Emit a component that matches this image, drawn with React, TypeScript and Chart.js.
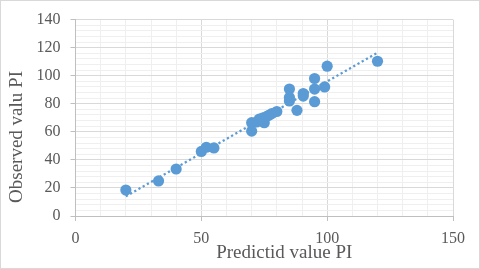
import React, { useEffect, useRef } from "react";
import { Chart, registerables } from "chart.js";

Chart.register(...registerables);

const predictedX = [20, 33, 40, 50, 52, 55, 70, 70, 72, 73, 74.5, 75, 76, 77, 78, 80, 85, 85, 85, 88, 90.5, 90.5, 95, 95, 95, 99, 100, 120];
const observedY = [18.5, 25, 33.5, 46, 49, 48.5, 60.5, 66.5, 67, 69, 70, 66.5, 71, 72, 73, 74.5, 90.5, 84.5, 82, 75.3, 85.5, 87.3, 81.5, 90.5, 98, 92, 106.8, 110.3];
const trendX = [20, 120];
const trendY = [14, 116.4];
const xTitle = "Predictid value PI";
const yTitle = "Observed valu PI";

const FONT = "'Liberation Serif', 'Times New Roman', serif";

export default function App() {
  const ref = useRef<HTMLCanvasElement>(null);
  useEffect(() => {
    document.body.style.margin = "0";
    const ctx = ref.current!;
    const deco = {
      id: "deco",
      beforeDraw(chart: any) {
        const c = chart.ctx;
        c.save();
        c.fillStyle = "#ffffff";
        c.fillRect(0, 0, chart.width, chart.height);
        c.strokeStyle = "#d9d9d9";
        c.lineWidth = 1;
        c.strokeRect(0.5, 0.5, chart.width - 1, chart.height - 1);
        c.restore();
      },
      afterDraw(chart: any) {
        const c = chart.ctx;
        const area = chart.chartArea;
        c.save();
        c.fillStyle = "#595959";
        c.font = "19px " + FONT;
        c.textAlign = "center";
        c.textBaseline = "middle";
        c.fillText(xTitle, area.left + (area.right - area.left) * 0.553, 253);
        c.translate(17, 137);
        c.rotate(-Math.PI / 2);
        c.fillText(yTitle, 0, 0);
        c.restore();
      },
    };
    const font = { family: FONT };
    const chart = new Chart(ctx, {
      type: "scatter",
      data: {
        datasets: [
          {
            label: "Observed",
            data: predictedX.map((x, i) => ({ x, y: observedY[i] })),
            backgroundColor: "#5b9bd5",
            borderColor: "#5b9bd5",
            pointRadius: 5.6,
            pointHoverRadius: 5.6,
            borderWidth: 0,
          },
          {
            type: "line",
            label: "Trend",
            data: trendX.map((x, i) => ({ x, y: trendY[i] })),
            borderColor: "#5b9bd5",
            borderWidth: 2.25,
            borderDash: [2.25, 2.6],
            pointRadius: 0,
            fill: false,
          } as any,
        ],
      },
      options: {
        animation: false,
        responsive: false,
        layout: { padding: { left: 0, right: 27, top: 12.4, bottom: 0 } },
        plugins: { legend: { display: false }, tooltip: { enabled: false } },
        scales: {
          x: {
            type: "linear",
            min: 0,
            max: 150,
            afterFit(scale: any) {
              scale.height = 53;
            },
            ticks: {
              stepSize: 10,
              autoSkip: false,
              maxRotation: 0,
              padding: 8,
              color: "#595959",
              font: { ...font, size: 16 },
              callback: (v: any) => (Number(v) % 50 === 0 ? String(v) : ""),
            },
            grid: {
              color: (c: any) => (c.tick && c.tick.value % 50 === 0 ? "#d9d9d9" : "#efefef"),
              tickColor: (c: any) => (c.tick && c.tick.value % 50 === 0 ? "#bfbfbf" : "rgba(0,0,0,0)"),
              tickLength: 5,
              lineWidth: 1,
            },
            border: { color: "#bfbfbf" },
          },
          y: {
            type: "linear",
            min: 0,
            max: 140,
            afterFit(scale: any) {
              scale.width = 75.5;
            },
            ticks: {
              stepSize: 4,
              autoSkip: false,
              padding: 10,
              color: "#595959",
              font: { ...font, size: 16 },
              callback: (v: any) => (Number(v) % 20 === 0 ? String(v) : ""),
            },
            grid: {
              color: (c: any) => (c.tick && c.tick.value % 20 === 0 ? "#d9d9d9" : "#efefef"),
              tickColor: (c: any) => (c.tick && c.tick.value % 20 === 0 ? "#bfbfbf" : "rgba(0,0,0,0)"),
              tickLength: 5,
              lineWidth: 1,
            },
            border: { color: "#bfbfbf" },
          },
        },
      },
      plugins: [deco],
    });
    return () => chart.destroy();
  }, []);
  return (
    <div style={{ position: "absolute", left: 0, top: 0, width: 480, height: 269 }}>
      <canvas ref={ref} width={480} height={269} style={{ display: "block", width: 480, height: 269 }} />
    </div>
  );
}
